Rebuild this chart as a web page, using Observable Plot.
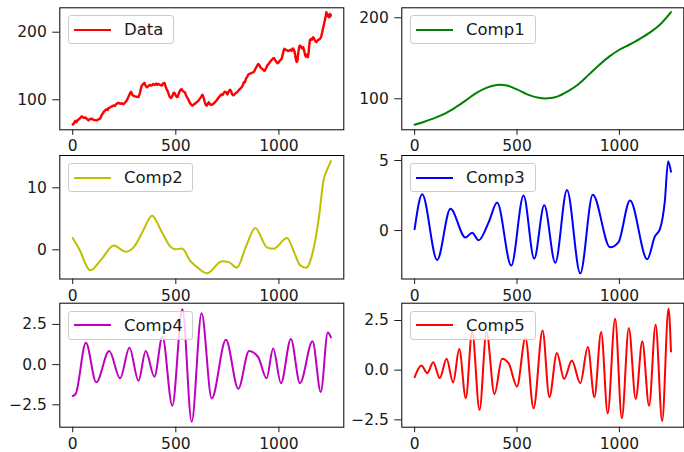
<!DOCTYPE html>
<html><head><meta charset="utf-8">
<script src="https://cdn.jsdelivr.net/npm/d3@7"></script>
<script src="https://cdn.jsdelivr.net/npm/@observablehq/plot@0.6"></script>
<style>
html,body{margin:0;padding:0;background:#fff;}
#fig{position:relative;width:684px;height:452px;overflow:hidden;font-family:"DejaVu Sans",sans-serif;}
.cell{position:absolute;}
.cell svg{position:absolute;left:0;top:0;}
.legend{position:absolute;box-sizing:border-box;height:29px;border:1px solid #cccccc;border-radius:3px;background:rgba(255,255,255,0.8);display:flex;align-items:center;font-size:16.5px;color:#1a1a1a;z-index:2;white-space:nowrap;}
.legend svg{position:static;margin-left:5px;margin-right:13px;flex:none;}
</style></head><body><div id="fig"></div>
<script>
// ---- data ----
const xTicks = [0, 500, 1000];
const seriesNames = ["Data", "Comp1", "Comp2", "Comp3", "Comp4", "Comp5"];

const dataX = [0,6,12,18,24,30,36,44,50,56,62,68,76,82,88,93,100,108,117,124,133,140,149,156,163,170,173,180,188,198,205,212,222,230,238,246,254,262,270,277,283,288,294,302,310,319,326,331,335,341,348,353,359,366,374,382,391,398,405,410,416,424,432,438,445,450,455,461,466,471,477,484,489,493,499,505,509,515,521,528,533,539,545,550,556,561,567,574,580,587,594,601,608,615,622,629,635,640,646,650,655,660,666,674,682,690,697,704,709,714,720,726,732,738,744,750,756,763,768,773,779,785,790,795,802,808,814,819,826,830,835,840,846,851,858,864,870,876,882,888,894,900,906,910,916,922,928,932,938,944,950,956,962,968,973,977,983,988,993,997,1002,1008,1013,1018,1022,1026,1032,1038,1044,1050,1056,1062,1067,1071,1075,1078,1082,1086,1090,1094,1098,1102,1107,1112,1118,1123,1127,1131,1136,1140,1144,1147,1150,1155,1160,1166,1171,1176,1182,1188,1193,1199,1203,1206,1210,1214,1219,1223,1227,1230,1234,1238,1242,1246,1249,1252];
const dataY = [63.5,65,69,67,70,71,73,75.5,74,73,74,72,69.5,71,72,72,70.5,70,69.5,71,72,77,81.5,84,86,85,87.5,88.5,90,91.5,91,94,95.5,94,95,93.5,96,99,104,109,112,108,106,105,104.5,104,110,117,121,123,125,121,118.5,120,122,121,123.5,122,124,122,123.5,122,121,124,125,120,116,112.5,108,104,102.5,106,110,110.5,107,104,104.5,110,114,116,113,112,110.5,106,103,100.5,96,93,91.5,93,94.5,96.5,98,101,104,107.5,103,97,92,91.5,94,96.5,93,92.5,94,96.5,99,102,104,105.5,108,107,110,112,111,108,112,115,113,108,106.5,108,110,110.5,113,115,117,118.5,122,126,126,131,134,137,138.5,139,140,140.8,143,147,150,153,151,148,146.5,145,143,143.3,147,151,153,155.6,158,160,161.5,161.5,158,156,154,154.7,157,159,160.6,166,172,175.4,174,173.5,172,173,174,172.5,176,175,172,168,160,156,158,170,178,180.3,179,176,177.8,172,166,164,167,163,170,180,187.7,190,189,192.6,190,187,185.2,188,189,190.2,192,195,200,206,212.4,218,224,229.6,226,224,222.2,227,223,225.7];

const comp1X = [0,50,100,150,200,250,300,350,400,450,500,550,600,650,700,750,800,850,900,950,1000,1050,1100,1150,1200,1252];
const comp1Y = [68,72,76.5,82,89.5,98,107,113.5,117,116.5,111.5,105.5,101.5,100.5,103,109.5,118,129.5,141.5,152,160.5,167,174,182,192,207];

const comp2X = [0,30,86,140,199,256,300,340,385,430,474,500,530,570,610,651,724,755,796,840,885,942,974,1039,1075,1103,1132,1155,1176,1195,1216,1235,1252];
const comp2Y = [1.9,0.2,-3.3,-1.5,0.7,-0.3,0.6,3.0,5.5,3.0,0.5,0.1,0.2,-1.8,-3.0,-3.8,-1.85,-1.95,-2.9,0.5,3.5,0.4,0.15,1.9,-0.5,-2.5,-2.9,-1.5,1.5,5.5,11.2,13.0,14.3];

const comp3X = [0,37,110,175,248,281,313,362,403,472,532,584,633,687,744,809,870,955,995,1052,1136,1174,1198,1222,1238,1252];
const comp3Y = [0.1,2.6,-2.1,1.55,-0.5,-0.15,-0.7,0.6,2.0,-2.5,2.5,-2.0,1.8,-2.3,2.9,-3.05,2.55,-1.2,-0.85,2.15,-2.05,-0.4,0.1,2.1,4.95,4.2];

const comp4X = [0,15,64,114,177,230,275,319,354,396,435,483,532,577,625,674,743,803,855,900,940,972,1010,1058,1102,1163,1203,1237,1252];
const comp4Y = [-1.95,-1.8,1.36,-1.1,0.85,-0.85,1.05,-1.0,0.85,-0.75,1.75,-2.55,3.45,-3.55,3.2,-2.1,1.55,-1.5,0.85,0.45,-0.85,1.0,-1.15,1.6,-1.15,1.45,-1.7,2.0,1.7];

const comp5X = [0,33,62,91,123,156,188,218,250,281,317,351,390,427,459,500,541,581,625,658,695,730,768,809,846,878,911,943,979,1012,1046,1080,1112,1145,1177,1209,1240,1252];
const comp5Y = [-0.35,0.24,-0.15,0.4,-0.4,0.57,-0.62,1.06,-1.41,1.95,-2.0,1.92,-1.2,0.57,0.35,-0.82,1.62,-1.92,2.0,-1.36,0.86,-0.44,0.49,-0.66,1.16,-1.36,1.92,-2.17,2.59,-2.42,2.12,-1.45,1.45,-1.79,2.29,-2.56,3.1,0.94];

const colors = ["#ff0000", "#008000", "#bfbf00", "#0000ff", "#bf00bf", "#ff0000"];
const yDomains = [[55.6, 236.1], [61.7, 212.3], [-4.71, 15.21], [-3.46, 5.36], [-3.89, 3.82], [-2.87, 3.37]];
const yTickSets = [[100, 200], [100, 200], [0, 10], [0, 5], [-2.5, 0, 2.5], [-2.5, 0, 2.5]];
const yFormats = [d3.format("d"), d3.format("d"), d3.format("d"), d3.format("d"), d3.format(".1f"), d3.format(".1f")];
const xDomain = [-62.6, 1314.6];

// ---- layout ----
const xsAll = [dataX, comp1X, comp2X, comp3X, comp4X, comp5X];
const ysAll = [dataY, comp1Y, comp2Y, comp3Y, comp4Y, comp5Y];
const curves = ["linear", "catmull-rom", "monotone-x", "monotone-x", "monotone-x", "monotone-x"];
const widths = [2.4, 2, 2, 2, 2, 2];
const cols = [{left: 0, width: 345, x0: 59.3, x1: 343.3}, {left: 345, width: 339, x0: 401.3, x1: 683.3}];
const rowsL = [{top: 0, height: 153, y0: 7.3, y1: 129.3}, {top: 153, height: 148, y0: 155, y1: 278.5}, {top: 301, height: 151, y0: 302.7, y1: 426.7}];
const legendW = [106, 126, 125, 126, 125, 126];

const fig = document.getElementById("fig");
seriesNames.forEach((name, i) => {
  const c = cols[i % 2], r = rowsL[Math.floor(i / 2)];
  const rows = xsAll[i].map((x, j) => ({x, y: ysAll[i][j]}));
  const cell = document.createElement("div");
  cell.className = "cell";
  Object.assign(cell.style, {left: c.left + "px", top: r.top + "px", width: c.width + "px", height: r.height + "px"});
  const chart = Plot.plot({
    width: c.width,
    height: r.height,
    marginLeft: c.x0 - c.left,
    marginRight: c.left + c.width - c.x1,
    marginTop: r.y0 - r.top,
    marginBottom: r.top + r.height - r.y1,
    x: {domain: xDomain},
    y: {domain: yDomains[i]},
    style: {background: "transparent", fontFamily: "'DejaVu Sans', sans-serif", fontSize: "15.5px", color: "#1a1a1a", overflow: "visible"},
    marks: [
      Plot.line(rows, {x: "x", y: "y", stroke: colors[i], strokeWidth: widths[i], curve: curves[i], strokeLinejoin: "round"}),
      Plot.frame({stroke: "#000", strokeWidth: 1}),
      Plot.axisX(xTicks, {tickSize: 5.5, tickPadding: 5, tickFormat: d3.format("d"), label: null}),
      Plot.axisY(yTickSets[i], {tickSize: 7, tickPadding: 6, tickFormat: yFormats[i], label: null})
    ]
  });
  cell.appendChild(chart);
  const lg = document.createElement("div");
  lg.className = "legend";
  Object.assign(lg.style, {left: (c.x0 - c.left + 8.7) + "px", top: (r.y0 - r.top + 8) + "px", width: legendW[i] + "px"});
  lg.innerHTML = `<svg width="37" height="4"><line x1="0" x2="37" y1="2" y2="2" stroke="${colors[i]}" stroke-width="2"/></svg><span>${name}</span>`;
  cell.appendChild(lg);
  fig.appendChild(cell);
});
</script></body></html>
